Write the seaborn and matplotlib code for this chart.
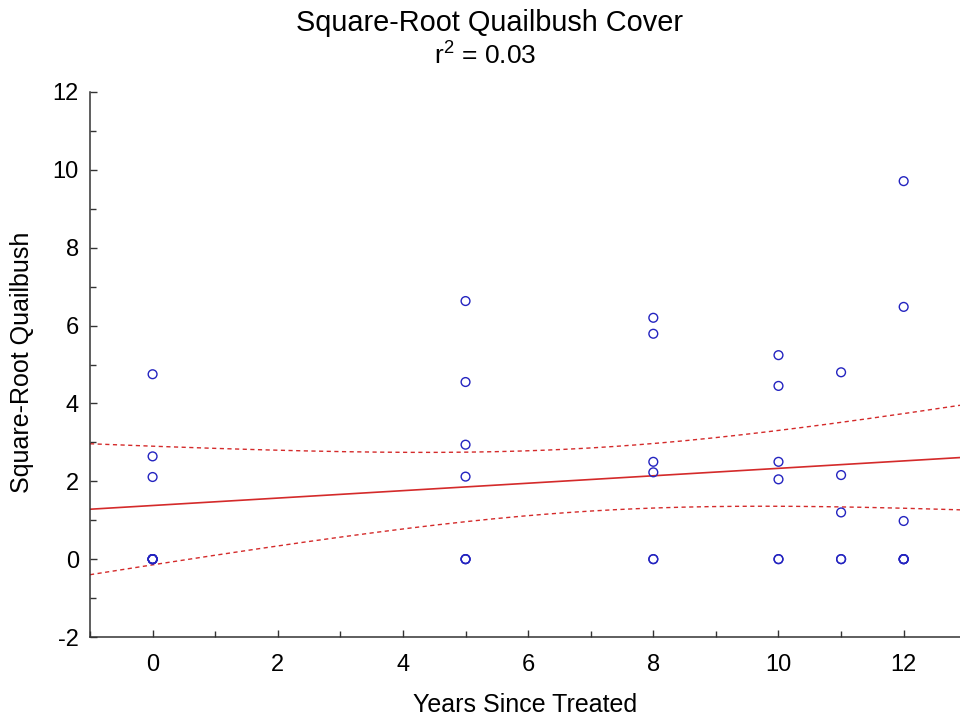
import numpy as np
import pandas as pd
import matplotlib
matplotlib.use("Agg")
import matplotlib.pyplot as plt
import seaborn as sns

# Years since treatment for each plot, and square-root quailbush cover
years = [0, 0, 0, 0, 0, 0, 0, 0, 0,
         5, 5, 5, 5, 5, 5, 5,
         8, 8, 8, 8, 8, 8,
         10, 10, 10, 10, 10, 10,
         11, 11, 11, 11, 11,
         12, 12, 12, 12, 12, 12, 12]
sqrt_cover = [4.75, 2.64, 2.11, 0, 0, 0, 0, 0, 0,
              6.63, 4.55, 2.94, 2.12, 0, 0, 0,
              6.20, 5.79, 2.50, 2.23, 0, 0,
              5.24, 4.45, 2.50, 2.05, 0, 0,
              4.80, 2.16, 1.20, 0, 0,
              9.71, 6.48, 0.98, 0, 0, 0, 0]

x_ticks = [0, 2, 4, 6, 8, 10, 12]
y_ticks = [-2, 0, 2, 4, 6, 8, 10, 12]

title = "Square-Root Quailbush Cover"
subtitle = r"r$^2$ = 0.03"
x_label = "Years Since Treated"
y_label = "Square-Root Quailbush"

T_CRIT = 2.024  # two-sided 95% t quantile, df = n - 2

df = pd.DataFrame({"years": years, "cover": sqrt_cover})

sns.set_style("ticks")
plt.rcParams["font.family"] = ["Liberation Sans", "DejaVu Sans"]
plt.rcParams["axes.unicode_minus"] = False
plt.rcParams["text.color"] = "black"
plt.rcParams["axes.labelcolor"] = "black"
plt.rcParams["mathtext.fontset"] = "custom"
plt.rcParams["mathtext.rm"] = "Liberation Sans"

fig = plt.figure(figsize=(9.6, 7.19), dpi=100)
ax = fig.add_axes([90 / 960, 82 / 719, 870 / 960, 545 / 719])
ax.set_xlim(-1, 12.9)
ax.set_ylim(-2, 12)

# least-squares fit with 95% confidence band for the mean
x = df["years"].to_numpy(float)
y = df["cover"].to_numpy(float)
n = len(x)
slope, intercept = np.polyfit(x, y, 1)
resid = y - (intercept + slope * x)
s2 = (resid ** 2).sum() / (n - 2)
sxx = ((x - x.mean()) ** 2).sum()
grid = np.linspace(-1, 12.9, 300)
fit = intercept + slope * grid
half = T_CRIT * np.sqrt(s2 * (1 / n + (grid - x.mean()) ** 2 / sxx))
band = pd.DataFrame({"x": grid, "fit": fit, "lo": fit - half, "hi": fit + half})

red = "#d42a2a"
sns.lineplot(data=band, x="x", y="fit", ax=ax, color=red, lw=1.2)
for col in ("lo", "hi"):
    sns.lineplot(data=band, x="x", y=col, ax=ax, color=red, lw=1.0,
                 linestyle=(0, (3, 2.5)))

sns.scatterplot(data=df, x="years", y="cover", ax=ax, marker="o", s=40,
                facecolors="none", edgecolor="#2424c0", linewidth=1.0,
                zorder=3)

ax.set_xticks(x_ticks)
ax.set_yticks(y_ticks)
ax.set_xticks(np.arange(-1, 13, 2), minor=True)
ax.set_yticks(np.arange(-1, 12, 2), minor=True)
ax.tick_params(which="both", direction="in", color="#333333", width=1,
               labelsize=17, labelcolor="black")
ax.tick_params(which="major", length=5)
ax.tick_params(which="minor", length=4)
ax.tick_params(axis="x", which="major", pad=12)
ax.tick_params(axis="y", which="major", pad=8)
for side in ("top", "right"):
    ax.spines[side].set_visible(False)
for side in ("left", "bottom"):
    ax.spines[side].set_color("#333333")
    ax.spines[side].set_linewidth(1.1)

ax.set_xlabel(x_label, fontsize=18)
ax.set_ylabel(y_label, fontsize=18)
ax.xaxis.label.set_va("center")
ax.yaxis.label.set_va("center")
ax.xaxis.set_label_coords(0.5, (637 - 705) / 545)
ax.yaxis.set_label_coords((22 - 90) / 870, (637 - 362) / 545)

fig.text(490 / 960, 1 - 23 / 719, title, ha="center", va="center", fontsize=20.8)
fig.text(485 / 960, 1 - 55 / 719, subtitle, ha="center", va="center", fontsize=19)

fig.savefig("out.png", dpi=100, facecolor="white")
